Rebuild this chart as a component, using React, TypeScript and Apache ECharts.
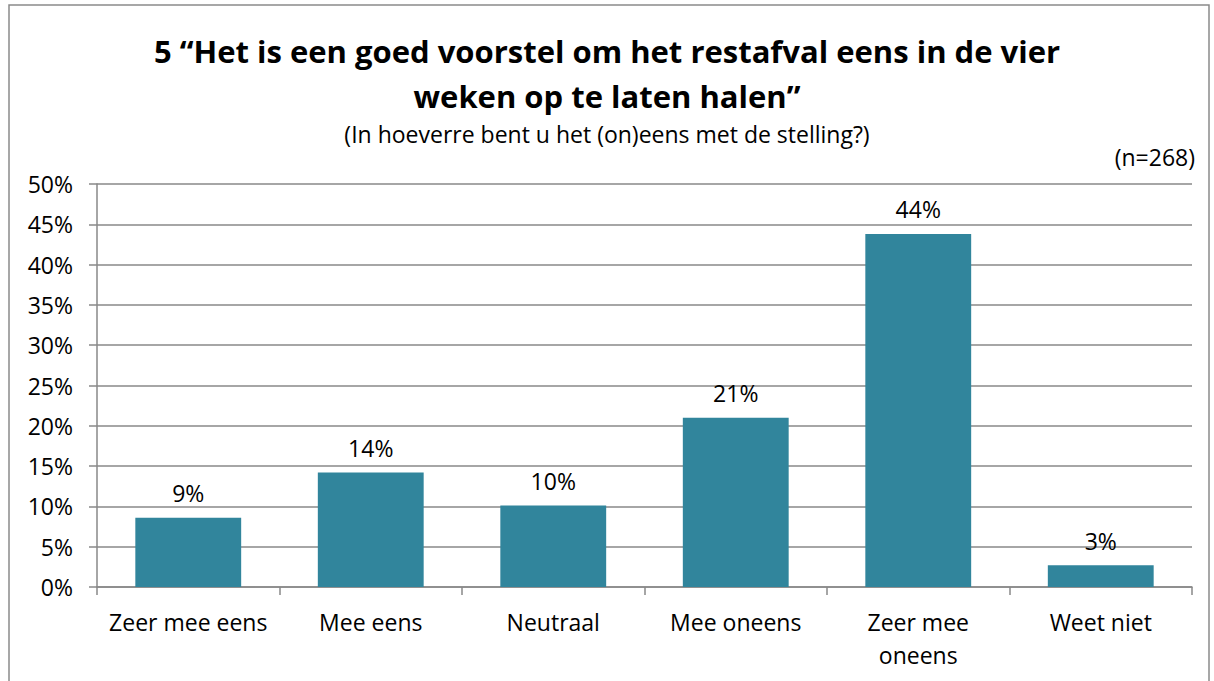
import React, { useEffect, useRef } from "react";
import * as echarts from "echarts";

const categories = ["Zeer mee eens", "Mee eens", "Neutraal", "Mee oneens", "Zeer mee\noneens", "Weet niet"];
const values = [8.6, 14.2, 10.1, 21.0, 43.8, 2.7];
const valueLabels = ["9%", "14%", "10%", "21%", "44%", "3%"];
const titleLines = ["5 “Het is een goed voorstel om het restafval eens in de vier", "weken op te laten halen”"];
const subtitle = "(In hoeverre bent u het (on)eens met de stelling?)";
const sampleNote = "(n=268)";

const FONT = "'Open Sans', 'Noto Sans', sans-serif";

export default function App() {
  const ref = useRef<HTMLDivElement>(null);
  useEffect(() => {
    const chart = echarts.init(ref.current!, null, { renderer: "svg" });
    const titleStyle = { fontFamily: FONT, fontSize: 31, fontWeight: "bold", color: "#000" };
    const small = { fontFamily: FONT, fontSize: 23, fontWeight: "normal", color: "#000" };
    chart.setOption({
      animation: false,
      backgroundColor: "#ffffff",
      textStyle: { fontFamily: FONT },
      title: [
        { text: titleLines[0], left: "center", top: 30, textStyle: titleStyle },
        { text: titleLines[1], left: "center", top: 75, textStyle: titleStyle },
        { text: subtitle, left: "center", top: 117, textStyle: small },
        { text: sampleNote, right: 14, top: 140, textStyle: small },
      ],
      graphic: [
        {
          type: "rect",
          shape: { x: 9, y: 5, width: 1200, height: 720 },
          style: { fill: "none", stroke: "#8a8a8a", lineWidth: 1.5 },
          silent: true,
        },
      ],
      grid: { left: 97, right: 22, top: 184, bottom: 94, containLabel: false },
      xAxis: {
        type: "category",
        data: categories,
        axisLine: { lineStyle: { color: "#888", width: 1.5 } },
        axisTick: { show: true, length: 8, lineStyle: { color: "#888", width: 1.5 } },
        axisLabel: { color: "#000", fontSize: 23, fontFamily: FONT, margin: 18, lineHeight: 33, interval: 0 },
      },
      yAxis: {
        type: "value",
        min: 0,
        max: 50,
        interval: 5,
        axisLine: { show: true, lineStyle: { color: "#888", width: 1.5 } },
        axisTick: { show: true, length: 8, lineStyle: { color: "#888", width: 1.5 } },
        splitLine: { show: true, lineStyle: { color: "#888", width: 1.5 } },
        axisLabel: { color: "#000", fontSize: 23, fontFamily: FONT, margin: 24, formatter: (v: number) => v + "%" },
      },
      series: [
        {
          type: "bar",
          data: values,
          barCategoryGap: "42%",
          itemStyle: { color: "#31859C" },
          label: {
            show: true,
            position: "top",
            distance: 13,
            color: "#000",
            fontSize: 23,
            fontFamily: FONT,
            formatter: (p: any) => valueLabels[p.dataIndex],
          },
        },
      ],
    });
    return () => chart.dispose();
  }, []);
  return <div ref={ref} style={{ position: "fixed", left: 0, top: 0, width: 1214, height: 681 }} />;
}
